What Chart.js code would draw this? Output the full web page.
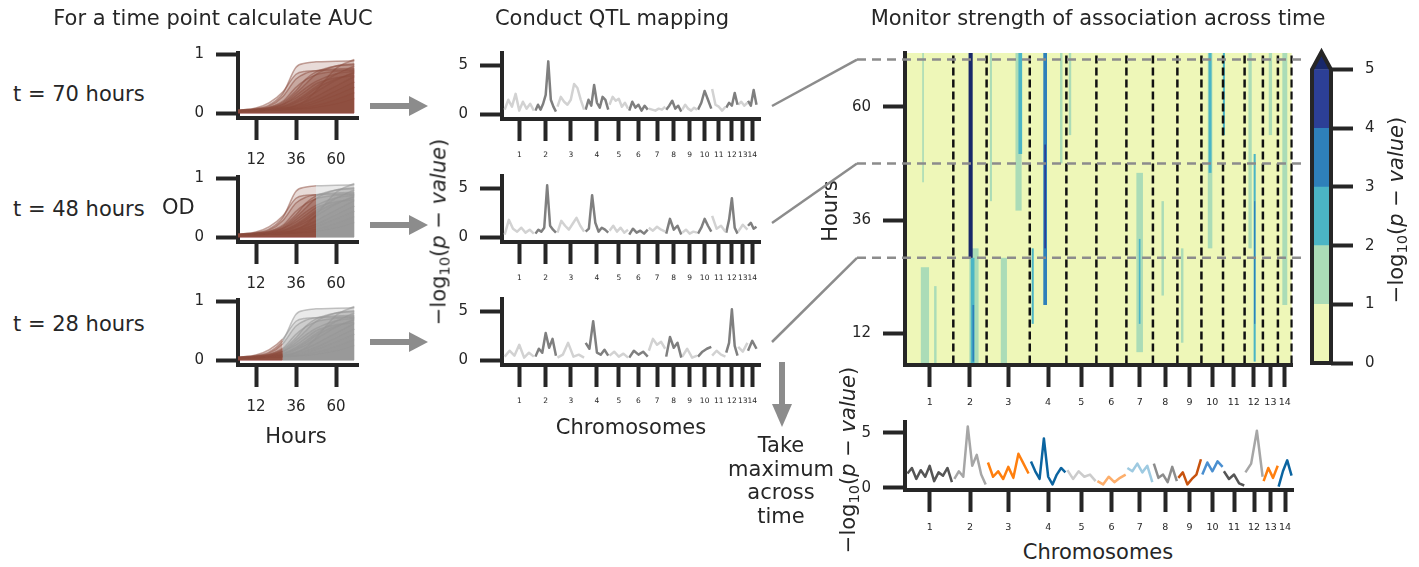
<!DOCTYPE html>
<html>
<head>
<meta charset="utf-8">
<title>QTL mapping across time</title>
<script src="https://cdn.jsdelivr.net/npm/chart.js@4.4.1/dist/chart.umd.min.js"></script>
<style>
  html, body { margin: 0; padding: 0; background: #fff; }
  #fig { position: relative; width: 1419px; height: 567px; overflow: hidden;
         font-family: "DejaVu Sans", sans-serif; color: #262626; }
  #fig canvas { position: absolute; }
  .txt { position: absolute; white-space: nowrap; line-height: 1; }
  .txt sub { font-size: 0.7em; vertical-align: -0.3em; line-height: 0; }
  #overlay { position: absolute; left: 0; top: 0; }
</style>
</head>
<body>
<div id="fig"></div>
<script>
// ---- values ----
const chromosomes = ["1", "2", "3", "4", "5", "6", "7", "8", "9", "10", "11", "12", "13", "14"];
const chromLength = [2.30, 1.62, 2.10, 1.78, 1.46, 1.46, 1.29, 1.19, 1.17, 1.05, 1.05, 0.89, 0.73, 0.67]; // Mb

// growth curves (OD) shown in the three AUC panels
const hours = [1, 12, 20, 28, 36, 42, 48, 60, 71];
const odCurves = [
  [0.05, 0.08, 0.14, 0.33, 0.78, 0.85, 0.87, 0.88, 0.89],
  [0.05, 0.09, 0.18, 0.36, 0.66, 0.71, 0.72, 0.73, 0.74],
  [0.04, 0.07, 0.12, 0.28, 0.58, 0.68, 0.72, 0.75, 0.76],
  [0.05, 0.07, 0.10, 0.20, 0.44, 0.57, 0.65, 0.71, 0.73],
  [0.03, 0.05, 0.08, 0.16, 0.34, 0.50, 0.66, 0.80, 0.84],
  [0.03, 0.05, 0.08, 0.14, 0.30, 0.43, 0.54, 0.67, 0.71],
  [0.04, 0.06, 0.08, 0.12, 0.22, 0.33, 0.45, 0.66, 0.80],
  [0.03, 0.05, 0.07, 0.10, 0.18, 0.26, 0.36, 0.56, 0.70],
  [0.04, 0.05, 0.06, 0.09, 0.14, 0.20, 0.28, 0.46, 0.62],
  [0.03, 0.04, 0.06, 0.08, 0.12, 0.16, 0.22, 0.38, 0.53],
  [0.04, 0.05, 0.06, 0.07, 0.10, 0.13, 0.18, 0.31, 0.44],
  [0.03, 0.04, 0.05, 0.06, 0.08, 0.10, 0.13, 0.23, 0.35],
  [0.03, 0.04, 0.05, 0.06, 0.07, 0.08, 0.10, 0.16, 0.25],
  [0.04, 0.05, 0.06, 0.08, 0.13, 0.22, 0.38, 0.76, 0.91],
  [0.05, 0.07, 0.10, 0.18, 0.38, 0.58, 0.70, 0.80, 0.82],
  [0.04, 0.06, 0.09, 0.15, 0.26, 0.38, 0.50, 0.60, 0.64],
  [0.03, 0.05, 0.07, 0.11, 0.20, 0.30, 0.42, 0.58, 0.68]
];
const timePoints = [70, 48, 28];

// -log10(p) along each chromosome
const qtl70 = [
  [0.5, 1.5, 0.8, 2.1, 0.4, 1.3, 0.6, 1.1, 0.4],
  [0.4, 1.0, 0.5, 1.1, 2.0, 5.4, 1.5, 0.8, 0.3],
  [0.8, 1.8, 1.3, 1.0, 1.5, 3.1, 2.7, 1.5, 0.5],
  [0.5, 1.5, 0.9, 3.0, 1.2, 0.7, 1.8, 1.5, 0.5],
  [1.0, 1.8, 1.4, 1.6, 0.8, 1.2, 0.6],
  [0.4, 1.3, 0.7, 1.0, 0.4, 0.9, 0.5],
  [0.6, 0.5, 0.4, 0.6, 0.5, 0.8],
  [0.5, 0.9, 1.4, 0.6, 0.9, 0.3],
  [0.5, 1.0, 0.6, 0.4, 0.7, 0.5],
  [0.5, 1.2, 2.4, 1.5, 0.6],
  [2.6, 1.0, 0.8, 0.4, 0.8],
  [0.7, 1.2, 0.9, 2.2, 1.0],
  [1.0, 1.3, 0.9, 1.2],
  [1.4, 0.9, 2.5, 1.0]
];
const qtl48 = [
  [0.3, 1.8, 0.9, 0.6, 1.0, 0.5, 0.8, 0.4],
  [0.4, 0.8, 0.6, 1.0, 5.3, 1.2, 0.8, 0.5],
  [0.5, 1.7, 1.2, 0.8, 1.4, 2.0, 1.2, 0.6],
  [0.6, 0.9, 4.3, 1.5, 0.6, 1.0, 0.8, 0.5],
  [0.7, 1.2, 0.6, 1.0, 0.5, 0.8],
  [0.3, 0.9, 0.5, 0.7, 0.4, 0.8],
  [1.0, 0.7, 1.1, 0.8, 0.6],
  [0.4, 1.9, 0.8, 1.2, 0.3],
  [0.5, 0.8, 0.4, 0.6, 0.5],
  [0.4, 1.0, 1.9, 1.2, 0.6],
  [2.2, 0.9, 1.2, 0.6],
  [0.5, 1.8, 4.0, 1.0, 0.4],
  [0.6, 1.3, 0.8],
  [1.2, 1.5, 0.9, 1.1]
];
const qtl28 = [
  [0.4, 1.0, 0.5, 1.6, 0.3, 0.8, 0.4],
  [0.4, 1.2, 0.8, 2.8, 1.3, 2.2, 0.5],
  [0.3, 0.6, 1.8, 0.4, 0.6, 0.3],
  [1.8, 1.2, 4.0, 0.8, 0.6, 1.1, 0.5],
  [0.5, 0.9, 0.4, 0.7, 0.3],
  [0.3, 1.0, 0.6, 0.9, 0.4],
  [1.0, 2.2, 1.6, 1.9, 1.2],
  [0.4, 2.4, 1.3, 1.8, 0.3],
  [0.4, 1.2, 0.3, 0.5],
  [0.4, 0.9, 1.2, 1.4],
  [0.5, 1.0, 0.6, 0.4],
  [0.8, 1.8, 5.2, 1.5, 0.5],
  [1.4, 0.9, 1.8],
  [1.0, 2.0, 1.2]
];
const qtlMax = [
  [1.3, 1.8, 0.8, 1.6, 1.0, 2.0, 0.6, 1.4, 1.1, 1.8, 0.5],
  [0.8, 1.5, 1.0, 5.6, 2.0, 3.0, 1.2, 0.3],
  [2.3, 1.0, 1.5, 0.8, 1.9, 0.9, 3.1, 2.2, 1.3],
  [2.4, 1.5, 0.8, 4.5, 1.0, 0.3, 1.2, 1.8, 1.4],
  [1.6, 0.8, 1.5, 1.0, 1.2, 0.6],
  [0.6, 0.3, 1.0, 0.5, 0.9, 1.2],
  [1.8, 1.5, 2.2, 1.4, 2.0, 0.5],
  [2.2, 0.9, 1.2, 0.5, 1.9, 0.6],
  [0.9, 1.4, 0.3, 0.8, 1.2, 2.6],
  [1.2, 2.3, 1.5, 2.4, 1.9],
  [1.5, 0.8, 1.2, 0.4, 0.2],
  [1.4, 2.2, 5.2, 1.0],
  [0.6, 1.8, 0.9, 2.0],
  [0.1, 1.5, 2.5, 1.1]
];

// heatmap: hours covered, then streaks of stronger association
const heatHours = [5.6, 71.4];
const hotChr   = [1, 1, 1, 2, 2, 2, 2, 3, 3, 3, 4, 4, 4, 4, 5, 7, 7, 8, 10, 10, 11, 12, 12, 12, 13, 14, 3, 9];
const hotAt    = [0.40, 0.36, 0.62, 0.62, 0.58, 0.60, 0.52, 0.74, 0.78, 0.40, 0.08, 0.42, 0.42, 0.86, 0.12, 0.50, 0.50, 0.40, 0.40, 0.40, 0.04, 0.30, 0.55, 0.55, 0.50, 0.50, 0.10, 0.20];
const hotWidth = [0.40, 0.08, 0.12, 0.45, 0.18, 0.08, 0.20, 0.30, 0.18, 0.30, 0.10, 0.18, 0.08, 0.12, 0.12, 0.32, 0.08, 0.12, 0.22, 0.14, 0.10, 0.16, 0.10, 0.06, 0.16, 0.24, 0.10, 0.12];
const hotFrom  = [5.6, 44, 5.6, 5.6, 5.6, 6, 28, 38, 50, 5.6, 14, 18, 30, 48, 54, 8, 14, 20, 30, 46, 54, 30, 6, 14, 54, 18, 40, 10];
const hotTo    = [26, 71.4, 22, 30, 28, 18, 71.4, 71.4, 71.4, 28, 30, 71.4, 52, 71.4, 71.4, 46, 32, 40, 71.4, 71.4, 71.4, 71.4, 50, 40, 71.4, 71.4, 71.4, 30];
const hotLevel = [1, 1, 1, 1, 2, 3, 5, 1, 2, 1, 2, 3, 4, 1, 1, 1, 2, 1, 1, 2, 2, 1, 2, 3, 1, 1, 1, 1];

const cbLevels = [0, 1, 2, 3, 4, 5];

// ---- styling ----
const ink = "#262626";
const arrowGrey = "#8c8c8c";
const levelColors = ["#eef7b8", "#abdcb7", "#4bb5c5", "#2e80ba", "#2c3f96", "#18286a"];
const brownLine = "rgba(140, 76, 62, 0.5)", brownFill = "rgba(140, 76, 62, 0.2)";
const greyLine = "rgba(150, 150, 150, 0.55)", greyFill = "rgba(150, 150, 150, 0.2)";
const maxColors = ["#555555", "#a6a6a6", "#ff7f0e", "#0b64a0", "#cccccc", "#fdae6b", "#9ecae1",
                   "#8c8c8c", "#c7520e", "#4a8fd0", "#555555", "#a6a6a6", "#ff7f0e", "#0b64a0"];

Chart.defaults.font.family = '"DejaVu Sans", sans-serif';
Chart.defaults.color = ink;
Chart.defaults.animation = false;
Chart.defaults.responsive = false;
Chart.defaults.events = [];
Chart.defaults.plugins.legend.display = false;
Chart.defaults.plugins.tooltip.enabled = false;

const chromStart = [];
let acc = 0;
chromLength.forEach(l => { chromStart.push(acc); acc += l; });
const genomeLength = acc;
const chromCenter = chromStart.map((s, i) => s + chromLength[i] / 2);
const chromEnd = chromStart.map((s, i) => s + chromLength[i]);

const fig = document.getElementById("fig");

function panel(area, m) {
  const [x0, y0, x1, y1] = area;
  const c = document.createElement("canvas");
  const w = x1 - x0 + m.l + m.r, h = y1 - y0 + m.t + m.b;
  c.width = w; c.height = h;
  c.style.left = (x0 - m.l) + "px"; c.style.top = (y0 - m.t) + "px";
  c.style.width = w + "px"; c.style.height = h + "px";
  fig.appendChild(c);
  return c;
}

function axis(o) {
  const a = {
    type: "linear", min: o.min, max: o.max,
    border: {display: o.border !== false, width: 4, color: ink, z: o.z || 0},
    grid: {drawOnChartArea: false, drawTicks: true, tickLength: 22, tickWidth: 4, tickColor: ink},
    ticks: {font: {size: o.size}, color: ink, padding: o.pad, maxRotation: 0, minRotation: 0, autoSkip: false,
            callback: (v, i) => o.names ? o.names[i] : String(v)},
    afterBuildTicks: s => { s.ticks = o.at.map(v => ({value: v})); },
    afterFit: s => { if (o.horiz) s.height = o.fit; else s.width = o.fit; }
  };
  if (o.pos) a.position = o.pos;
  return a;
}

// ---- AUC panels ----
const growthTop = [53, 177, 300];
timePoints.forEach((cut, row) => {
  const m = {l: 48, t: 26, r: 12, b: 52};
  const canvas = panel([238, growthTop[row], 358, growthTop[row] + 65], m);
  new Chart(canvas, {
    type: "line",
    data: {
      datasets: odCurves.map(od => ({
        data: od.map((v, i) => ({x: hours[i], y: v})),
        borderWidth: 1.5, pointRadius: 0, cubicInterpolationMode: "monotone", fill: "origin",
        borderColor: brownLine, backgroundColor: brownFill,
        segment: {
          borderColor: c => c.p0.parsed.x >= cut ? greyLine : brownLine,
          backgroundColor: c => c.p0.parsed.x >= cut ? greyFill : brownFill
        }
      }))
    },
    options: {
      layout: {padding: {top: m.t, right: m.r, left: 0, bottom: 0}},
      scales: {
        x: axis({min: 1.2, max: 73.2, at: [12, 36, 60], size: 15, pad: 11, fit: m.b, horiz: true}),
        y: axis({min: -0.08, max: 1.02, at: [0, 1], size: 15, pad: 12, fit: m.l})
      }
    }
  });
});

// ---- Manhattan plots ----
function manhattan(area, m, profile, colorOf, o) {
  const canvas = panel(area, m);
  return new Chart(canvas, {
    type: "line",
    data: {
      datasets: profile.map((vals, c) => ({
        data: vals.map((v, i) => ({x: chromStart[c] + chromLength[c] * (0.03 + 0.94 * i / (vals.length - 1)), y: v})),
        borderColor: colorOf(c), borderWidth: o.lw, pointRadius: 0, tension: 0, borderJoinStyle: "round"
      }))
    },
    options: {
      layout: {padding: {top: m.t, right: m.r, left: 0, bottom: 0}},
      scales: {
        x: axis({min: o.xmin, max: o.xmax, at: chromCenter, names: chromosomes, size: o.tickFont, pad: o.xpad, fit: m.b, horiz: true}),
        y: axis({min: o.ymin, max: o.ymax, at: [0, 5], size: 15, pad: 12, fit: m.l})
      }
    }
  });
}

const qtlTop = [53, 176, 299];
[qtl70, qtl48, qtl28].forEach((profile, row) => {
  manhattan([502, qtlTop[row], 760, qtlTop[row] + 66], {l: 50, t: 26, r: 10, b: 46}, profile,
    c => c % 2 === 0 ? "#d2d2d2" : "#7f7f7f",
    {lw: 2.5, xmin: -0.13, xmax: genomeLength + 0.24, ymin: -0.45, ymax: 6.25, tickFont: 7.5, xpad: 10});
});

manhattan([905, 422, 1293, 490], {l: 56, t: 26, r: 10, b: 48}, qtlMax, c => maxColors[c],
  {lw: 2.5, xmin: -0.05, xmax: genomeLength + 0.05, ymin: -0.21, ymax: 6.0, tickFont: 9.5, xpad: 10});

// ---- heatmap ----
const heatPlugin = {
  id: "heat",
  beforeDatasetsDraw(chart) {
    const {ctx, scales: {x, y}} = chart;
    ctx.save();
    ctx.fillStyle = levelColors[0];
    const top = y.getPixelForValue(heatHours[1]), bottom = y.getPixelForValue(heatHours[0]);
    ctx.fillRect(x.getPixelForValue(0), top, x.getPixelForValue(genomeLength) - x.getPixelForValue(0), bottom - top);
    hotChr.forEach((chr, i) => {
      const c = chr - 1;
      const mid = chromStart[c] + chromLength[c] * hotAt[i];
      const l = x.getPixelForValue(mid - hotWidth[i] / 2), r = x.getPixelForValue(mid + hotWidth[i] / 2);
      const t = y.getPixelForValue(hotTo[i]), b = y.getPixelForValue(hotFrom[i]);
      ctx.fillStyle = levelColors[hotLevel[i]];
      ctx.fillRect(l, t, r - l, b - t);
    });
    ctx.restore();
  }
};

const heatArea = [905, 53, 1293, 365];
const heatM = {l: 56, t: 26, r: 8, b: 48};
const heatCanvas = panel(heatArea, heatM);
const heatChart = new Chart(heatCanvas, {
  type: "line",
  data: {
    datasets: chromEnd.map(e => ({
      data: [{x: e, y: heatHours[0]}, {x: e, y: heatHours[1]}],
      borderColor: "#111111", borderWidth: 2.5, borderDash: [8, 4], pointRadius: 0
    }))
  },
  options: {
    layout: {padding: {top: heatM.t, right: heatM.r, left: 0, bottom: 0}},
    scales: {
      x: axis({min: -0.05, max: genomeLength + 0.05, at: chromCenter, names: chromosomes, size: 9.5, pad: 10, fit: heatM.b, horiz: true, z: 1}),
      y: axis({min: 5.28, max: 71.4, at: [12, 36, 60], size: 15, pad: 12, fit: heatM.l, z: 1})
    }
  },
  plugins: [heatPlugin]
});

// ---- colour bar ----
const cbPlugin = {
  id: "cbOutline",
  afterDatasetsDraw(chart) {
    const {ctx, chartArea: a, scales: {y}} = chart;
    const y0 = y.getPixelForValue(0), y5 = y.getPixelForValue(5), tip = y.getPixelForValue(5.3);
    const mid = (a.left + a.right) / 2;
    ctx.save();
    ctx.beginPath();
    ctx.moveTo(a.left, y5); ctx.lineTo(mid, tip); ctx.lineTo(a.right, y5); ctx.closePath();
    ctx.fillStyle = levelColors[5];
    ctx.fill();
    ctx.beginPath();
    ctx.moveTo(a.left, y0); ctx.lineTo(a.left, y5); ctx.lineTo(mid, tip);
    ctx.lineTo(a.right, y5); ctx.lineTo(a.right, y0); ctx.closePath();
    ctx.lineWidth = 4; ctx.strokeStyle = ink; ctx.lineJoin = "miter";
    ctx.stroke();
    ctx.restore();
  }
};
const cbM = {l: 8, t: 26, r: 50, b: 26};
new Chart(panel([1312, 52, 1331, 363], cbM), {
  type: "bar",
  data: {
    labels: ["cb"],
    datasets: cbLevels.slice(0, 5).map((lv, i) => ({
      data: [[lv, cbLevels[i + 1]]], backgroundColor: levelColors[i], borderWidth: 0,
      grouped: false, categoryPercentage: 1, barPercentage: 1
    }))
  },
  options: {
    layout: {padding: {top: cbM.t, left: cbM.l, bottom: cbM.b, right: 0}},
    scales: {
      x: {display: false},
      y: axis({min: 0, max: 5.3, at: cbLevels, size: 15, pad: 12, fit: cbM.r, pos: "right", border: false})
    }
  },
  plugins: [cbPlugin]
});

// ---- text ----
function label(html, x, y, o = {}) {
  const d = document.createElement("div");
  d.className = "txt";
  d.innerHTML = html;
  d.style.left = x + "px"; d.style.top = y + "px";
  d.style.fontSize = (o.size || 21) + "px";
  if (o.lh) { d.style.lineHeight = o.lh; d.style.textAlign = "center"; }
  d.style.transform = "translate(" + (o.left ? "0" : "-50%") + ", -50%)" + (o.rot ? " rotate(-90deg)" : "");
  fig.appendChild(d);
}
const pLabel = "\u2212log<sub>10</sub>(<i>p</i> \u2212 <i>value</i>)";
label("For a time point calculate AUC", 213, 18);
label("Conduct QTL mapping", 612, 18);
label("Monitor strength of association across time", 1098, 18);
label("t = 70 hours", 13, 94, {left: true});
label("t = 48 hours", 13, 209, {left: true});
label("t = 28 hours", 13, 324, {left: true});
label("OD", 162, 207, {left: true});
label("Hours", 296, 436);
label(pLabel, 439, 232, {rot: true});
label("Chromosomes", 631, 427);
label("Hours", 830, 211, {rot: true});
label(pLabel, 1396, 210, {rot: true});
label(pLabel, 848, 460, {rot: true});
label("Chromosomes", 1098, 552);
label("Take<br>maximum<br>across<br>time", 781, 481, {lh: "1.13"});

// ---- arrows and connectors ----
const NS = "http://www.w3.org/2000/svg";
const svg = document.createElementNS(NS, "svg");
svg.setAttribute("id", "overlay");
svg.setAttribute("width", 1419); svg.setAttribute("height", 567);
fig.appendChild(svg);
function el(tag, attrs) {
  const e = document.createElementNS(NS, tag);
  Object.entries(attrs).forEach(([k, v]) => e.setAttribute(k, v));
  svg.appendChild(e);
}
[106, 225, 342].forEach(y => {
  el("line", {x1: 370, y1: y, x2: 411, y2: y, stroke: arrowGrey, "stroke-width": 6});
  el("polygon", {points: `409,${y - 10} 428,${y} 409,${y + 10}`, fill: arrowGrey});
});
el("line", {x1: 782, y1: 362, x2: 782, y2: 406, stroke: arrowGrey, "stroke-width": 6});
el("polygon", {points: "772,404 792,404 782,427", fill: arrowGrey});

const heatTop = heatArea[1] - heatM.t;
const connectFrom = [106, 223, 342];
timePoints.forEach((t, i) => {
  const yy = heatTop + heatChart.scales.y.getPixelForValue(t);
  el("line", {x1: 772, y1: connectFrom[i], x2: 857, y2: yy, stroke: arrowGrey, "stroke-width": 2.5});
  el("line", {x1: 857, y1: yy, x2: 1303, y2: yy, stroke: arrowGrey, "stroke-width": 2.5, "stroke-dasharray": "9 6"});
});
</script>
</body>
</html>
